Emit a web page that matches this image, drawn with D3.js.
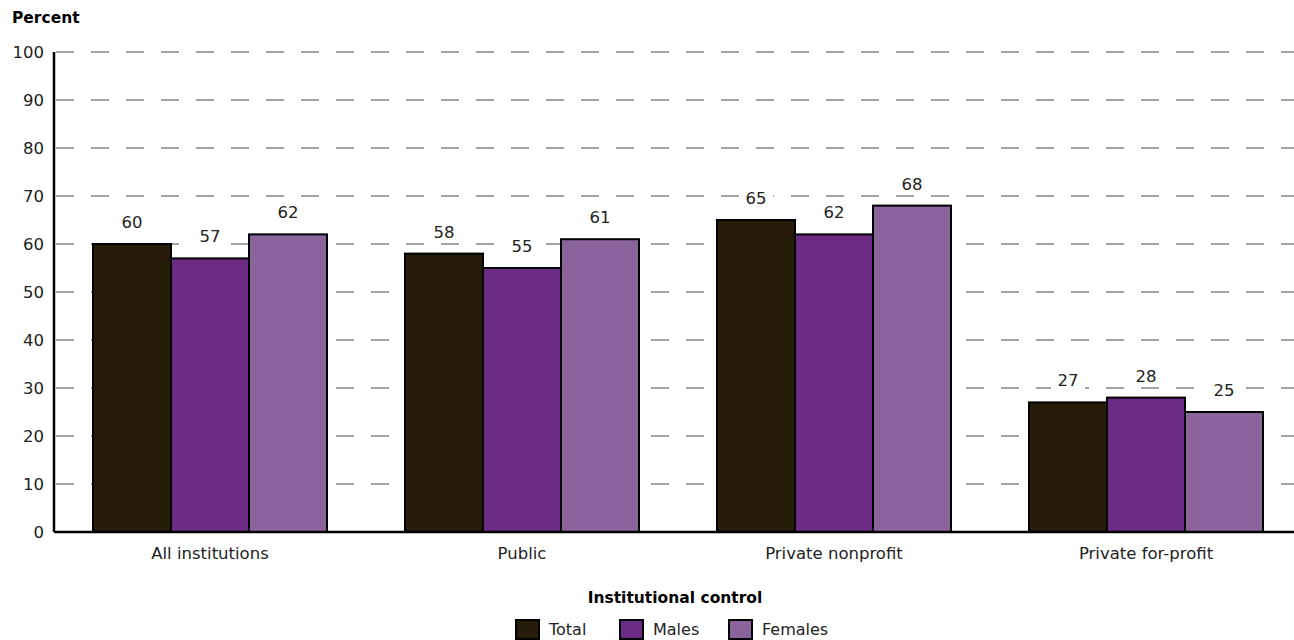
<!DOCTYPE html>
<html>
<head>
<meta charset="utf-8">
<script src="https://cdn.jsdelivr.net/npm/d3@7"></script>
<style>
  body { margin: 0; background: #fff; overflow: hidden; }
  svg { display: block; }
  text { font-family: "Century Gothic", "DejaVu Sans", sans-serif; }
</style>
</head>
<body>
<div id="chart"></div>
<script>
const categories = ['All institutions', 'Public', 'Private nonprofit', 'Private for-profit'];
const seriesNames = ['Total', 'Males', 'Females'];
const totalValues = [60, 58, 65, 27];
const maleValues = [57, 55, 62, 28];
const femaleValues = [62, 61, 68, 25];
const yTicks = [0, 10, 20, 30, 40, 50, 60, 70, 80, 90, 100];

const colors = ['#271b0a', '#6c2c85', '#8b649e'];

const width = 1294;
const height = 640;
const margin = { top: 52, right: -8, bottom: 108, left: 54 };
const innerWidth = width - margin.left - margin.right;
const innerHeight = height - margin.top - margin.bottom;

const svg = d3.select('#chart')
    .append('svg')
    .attr('width', width)
    .attr('height', height);

const g = svg.append('g')
    .attr('transform', `translate(${margin.left},${margin.top})`);

const x0 = d3.scaleBand()
    .domain(categories)
    .range([0, innerWidth])
    .paddingInner(0.25)
    .paddingOuter(0.125);

const x1 = d3.scaleBand()
    .domain(seriesNames)
    .range([0, x0.bandwidth()]);

const y = d3.scaleLinear()
    .domain([0, 100])
    .range([innerHeight, 0]);

// gridlines
g.selectAll('.grid')
    .data(yTicks.filter(d => d > 0))
    .enter()
    .append('line')
    .attr('class', 'grid')
    .attr('x1', 2)
    .attr('x2', width - margin.left)
    .attr('y1', d => y(d))
    .attr('y2', d => y(d))
    .style('stroke', '#a3a3a5')
    .style('stroke-width', 2)
    .style('stroke-dasharray', '18,17');

// y axis labels
g.selectAll('.ytick')
    .data(yTicks)
    .enter()
    .append('text')
    .attr('x', -10)
    .attr('y', d => y(d))
    .attr('dy', '0.35em')
    .attr('text-anchor', 'end')
    .style('font-size', '16.5px')
    .style('fill', '#222')
    .text(d => d);

const data = categories.map((c, i) => ({
    category: c,
    values: [totalValues[i], maleValues[i], femaleValues[i]]
}));

const groups = g.selectAll('.group')
    .data(data)
    .enter()
    .append('g')
    .attr('transform', d => `translate(${x0(d.category)},0)`);

groups.selectAll('rect.bar')
    .data(d => d.values.map((v, j) => ({ name: seriesNames[j], value: v, idx: j })))
    .enter()
    .append('rect')
    .attr('class', 'bar')
    .attr('x', d => x1(d.name))
    .attr('y', d => y(d.value))
    .attr('width', x1.bandwidth())
    .attr('height', d => innerHeight - y(d.value))
    .attr('fill', d => colors[d.idx])
    .attr('stroke', '#000')
    .attr('stroke-width', 2);

// value labels with white knock-out behind them
const labels = groups.selectAll('.val')
    .data(d => d.values.map((v, j) => ({ name: seriesNames[j], value: v })))
    .enter()
    .append('g')
    .attr('class', 'val');

labels.append('rect')
    .attr('x', d => x1(d.name) + x1.bandwidth() / 2 - 17)
    .attr('y', d => y(d.value) - 31)
    .attr('width', 34)
    .attr('height', 20)
    .attr('fill', '#fff');

labels.append('text')
    .attr('x', d => x1(d.name) + x1.bandwidth() / 2)
    .attr('y', d => y(d.value) - 16)
    .attr('text-anchor', 'middle')
    .style('font-size', '16.5px')
    .style('fill', '#222')
    .text(d => d.value);

// axes lines
g.append('line')
    .attr('x1', 0).attr('x2', 0)
    .attr('y1', 0).attr('y2', innerHeight)
    .style('stroke', '#000')
    .style('stroke-width', 2.5);

g.append('line')
    .attr('x1', 0).attr('x2', width - margin.left)
    .attr('y1', innerHeight).attr('y2', innerHeight)
    .style('stroke', '#000')
    .style('stroke-width', 2.5);

// category labels
g.selectAll('.xlab')
    .data(categories)
    .enter()
    .append('text')
    .attr('x', d => x0(d) + x0.bandwidth() / 2)
    .attr('y', innerHeight + 27)
    .attr('text-anchor', 'middle')
    .style('font-size', '16.5px')
    .style('fill', '#222')
    .text(d => d);

// titles
svg.append('text')
    .attr('x', 12)
    .attr('y', 23)
    .style('font-size', '15.5px')
    .style('font-weight', 'bold')
    .style('fill', '#000')
    .text('Percent');

svg.append('text')
    .attr('x', 675)
    .attr('y', 603)
    .attr('text-anchor', 'middle')
    .style('font-size', '15.5px')
    .style('font-weight', 'bold')
    .style('fill', '#000')
    .text('Institutional control');

// legend
const legendX = [516, 620, 729];
const legend = svg.append('g');
seriesNames.forEach((name, i) => {
    legend.append('rect')
        .attr('x', legendX[i])
        .attr('y', 620)
        .attr('width', 23)
        .attr('height', 19)
        .attr('fill', colors[i])
        .attr('stroke', '#000')
        .attr('stroke-width', 2);
    legend.append('text')
        .attr('x', legendX[i] + 33)
        .attr('y', 635)
        .style('font-size', '16px')
        .style('fill', '#222')
        .text(name);
});
</script>
</body>
</html>
